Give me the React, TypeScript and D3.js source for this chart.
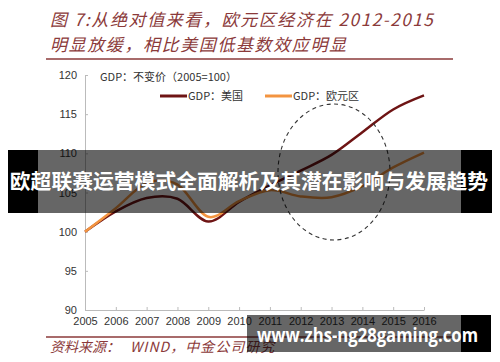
import React, { useRef, useEffect } from 'react';
import { select, scaleLinear, scalePoint, line, curveCardinal, axisLeft, axisBottom } from 'd3';

const years = ['2005', '2006', '2007', '2008', '2009', '2010', '2011', '2012', '2013', '2014', '2015', '2016'];
const usGdp = [100, 102.6, 104.3, 104.2, 101.3, 103.8, 105.9, 107.8, 109.8, 112.7, 115.6, 117.4];
const euGdp = [100, 103.0, 106.2, 106.0, 101.9, 103.9, 105.3, 104.5, 104.4, 105.8, 108.2, 110.1];
const yTicks = [90, 95, 100, 105, 110, 115, 120];
const seriesNames = ['GDP：美国', 'GDP：欧元区'];
const seriesColors = ['#6e1414', '#f39440'];

const titleLines = ['图 7:从绝对值来看，欧元区经济在 2012-2015', '明显放缓，相比美国低基数效应明显'];
const subtitle = 'GDP：不变价（2005=100）';
const source = ['资料来源：', 'WIND，中金公司研究'];
const bannerText = '欧超联赛运营模式全面解析及其潜在影响与发展趋势';
const watermark = 'www.zhs-ng28gaming.com';

const W = 500;
const H = 362;
const CJK = '"Noto Sans CJK SC", "Noto Sans", sans-serif';
const LAT = 'Arial, "Liberation Sans", sans-serif';
const RED = '#8b3a3a';

const App = () => {
  const svgRef = useRef(null);

  useEffect(() => {
    const svg = select(svgRef.current);
    svg.selectAll('*').remove();

    svg.append('rect').attr('width', W).attr('height', H).attr('fill', '#fff');

    // title
    titleLines.forEach((t, i) => {
      svg.append('text')
        .attr('x', 50).attr('y', 26 + i * 25)
        .attr('fill', RED)
        .attr('font-family', CJK)
        .attr('font-style', 'italic')
        .attr('font-size', 17)
        .attr('letter-spacing', 1.6)
        .text(t);
    });
    svg.append('line')
      .attr('x1', 46).attr('x2', 453).attr('y1', 59).attr('y2', 59)
      .attr('stroke', RED).attr('stroke-width', 1.5);

    const x = scalePoint().domain(years).range([85, 424]);
    const y = scaleLinear().domain([90, 120]).range([310, 75]);

    // axes
    const gy = svg.append('g').attr('transform', 'translate(85,0)')
      .call(axisLeft(y).tickValues(yTicks).tickSizeInner(-3).tickSizeOuter(0).tickPadding(8));
    gy.select('.domain').attr('stroke', '#bbb');
    gy.selectAll('.tick line').attr('stroke', '#bbb');
    gy.selectAll('.tick text')
      .attr('fill', '#333').attr('font-size', 11).attr('font-family', LAT);

    const gx = svg.append('g').attr('transform', 'translate(0,310)')
      .call(axisBottom(x).tickSizeInner(-3).tickSizeOuter(0).tickPadding(7));
    gx.select('.domain').attr('stroke', '#bbb');
    gx.selectAll('.tick line').attr('stroke', '#bbb');
    gx.selectAll('.tick text')
      .attr('fill', '#333').attr('font-size', 11).attr('font-family', LAT);

    // subtitle + legend
    svg.append('text')
      .attr('x', 100).attr('y', 81)
      .attr('fill', '#333').attr('font-size', 11).attr('font-family', CJK)
      .text(subtitle);

    const legendX = [160, 265];
    seriesNames.forEach((name, i) => {
      svg.append('line')
        .attr('x1', legendX[i]).attr('x2', legendX[i] + 27)
        .attr('y1', 96).attr('y2', 96)
        .attr('stroke', seriesColors[i]).attr('stroke-width', 3);
      svg.append('text')
        .attr('x', legendX[i] + 28).attr('y', 100)
        .attr('fill', '#333').attr('font-size', 11).attr('font-family', CJK)
        .text(name);
    });

    // lines
    const gen = line()
      .x((d, i) => x(years[i]))
      .y(d => y(d))
      .curve(curveCardinal.tension(0));
    [usGdp, euGdp].forEach((vals, i) => {
      svg.append('path')
        .attr('d', gen(vals))
        .attr('fill', 'none')
        .attr('stroke', seriesColors[i])
        .attr('stroke-width', 2.5);
    });

    // dashed ellipse
    svg.append('ellipse')
      .attr('cx', 334).attr('cy', 172).attr('rx', 56).attr('ry', 68)
      .attr('fill', 'none').attr('stroke', '#333')
      .attr('stroke-width', 1.1).attr('stroke-dasharray', '4,3.5');

    // source
    svg.append('line')
      .attr('x1', 46).attr('x2', 453).attr('y1', 337).attr('y2', 337)
      .attr('stroke', RED).attr('stroke-width', 1.5);
    svg.append('text')
      .attr('x', 50).attr('y', 352)
      .attr('fill', RED).attr('font-family', CJK)
      .attr('font-style', 'italic').attr('font-size', 14)
      .text(source[0]);
    svg.append('text')
      .attr('x', 130).attr('y', 352)
      .attr('fill', RED).attr('font-family', CJK)
      .attr('font-style', 'italic').attr('font-size', 14)
      .attr('letter-spacing', 1)
      .text(source[1]);

    // banner overlay
    svg.append('rect').attr('x', 8).attr('y', 150).attr('width', 484).attr('height', 63).attr('fill', 'rgba(0,0,0,0.6)');
    svg.append('rect').attr('x', 8).attr('y', 150).attr('width', 30).attr('height', 63).attr('fill', '#000');
    svg.append('rect').attr('x', 461).attr('y', 150).attr('width', 31).attr('height', 63).attr('fill', '#000');
    svg.append('text')
      .attr('x', 249).attr('y', 189)
      .attr('text-anchor', 'middle')
      .attr('fill', '#fff').attr('font-family', CJK)
      .attr('font-weight', 700).attr('font-size', 20.8)
      .text(bannerText);

    // watermark
    svg.append('rect').attr('x', 247).attr('y', 315).attr('width', 244).attr('height', 37).attr('fill', 'rgba(0,0,0,0.6)');
    svg.append('rect').attr('x', 461).attr('y', 315).attr('width', 30).attr('height', 37).attr('fill', '#000');
    svg.append('text')
      .attr('x', 257).attr('y', 342)
      .attr('fill', '#fff').attr('font-family', '"Open Sans", sans-serif')
      .attr('font-weight', 700).attr('font-size', 19)
      .attr('textLength', 221).attr('lengthAdjust', 'spacingAndGlyphs')
      .text(watermark);
  }, []);

  return (
    <svg
      ref={svgRef}
      width={W}
      height={H}
      style={{ position: 'absolute', left: 0, top: 0, display: 'block' }}
    />
  );
};

export default App;
